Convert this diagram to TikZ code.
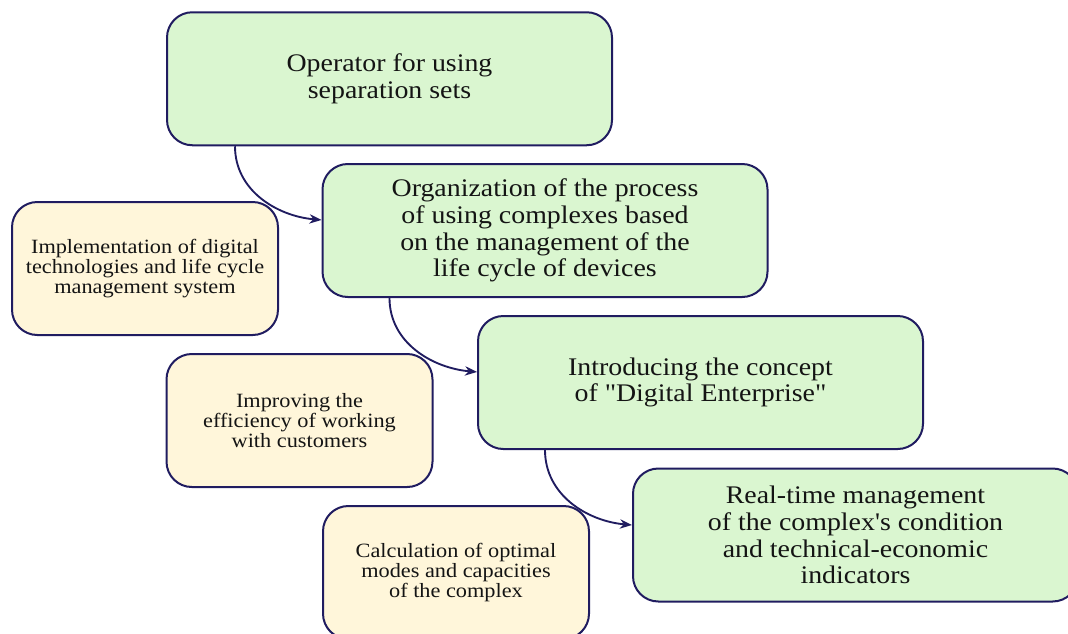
\documentclass[tikz,border=0pt]{standalone}
\usepackage{fontspec}
\setmainfont{Liberation Serif}[FakeStretch=1.1, Ligatures=TeXOff]
\usetikzlibrary{arrows.meta}
\definecolor{gfill}{RGB}{218,246,208}
\definecolor{yfill}{RGB}{255,246,218}
\definecolor{bord}{RGB}{32,28,96}
\definecolor{txt}{RGB}{20,20,20}
\tikzset{
  gbox/.style={draw=bord, fill=gfill, line width=1.5pt, rounded corners=19pt,
    minimum width=333.75pt, minimum height=99.75pt, align=center, text=txt,
    font=\fontsize{19}{20}\selectfont, inner sep=0pt},
  ybox/.style={draw=bord, fill=yfill, line width=1.5pt, rounded corners=19pt,
    minimum width=199.5pt, minimum height=99.75pt, align=center, text=txt,
    font=\fontsize{15.2}{15}\selectfont, inner sep=0pt},
  conn/.style={draw=bord, line width=1.4pt, -{Stealth[length=9pt,width=7pt]}}
}
\begin{document}
\begin{tikzpicture}[x=0.75pt,y=-0.75pt]
\useasboundingbox (0,0) rectangle (1068,633);
\begin{scope}
\clip (0,0) rectangle (1068,633);
\node[ybox] (y1) at (145,268.5) {Implementation of digital\\technologies and life cycle\\management system};
\node[ybox] (y2) at (299.5,420.5) {Improving the\\efficiency of working\\with customers};
\node[ybox] (y3) at (456,572.5) {Calculation of optimal\\modes and capacities\\of the complex};
\node[gbox] (g1) at (389.5,78.75) {Operator for using\\separation sets};
\node[gbox] (g2) at (545,230.5) {Organization of the process\\of using complexes based\\on the management of the\\life cycle of devices};
\node[gbox] (g3) at (700.5,382.5) {Introducing the concept\\of "Digital Enterprise"};
\node[gbox] (g4) at (855.5,535) {Real-time management\\of the complex's condition\\and technical-economic\\indicators};
\draw[conn] ([xshift=51.75pt]g1.south west) to[out=-90,in=175] ([yshift=7.9pt]g2.west);
\draw[conn] ([xshift=51pt]g2.south west) to[out=-90,in=175] ([yshift=7.9pt]g3.west);
\draw[conn] ([xshift=51pt]g3.south west) to[out=-90,in=175] ([yshift=7.5pt]g4.west);
\end{scope}
\end{tikzpicture}
\end{document}
